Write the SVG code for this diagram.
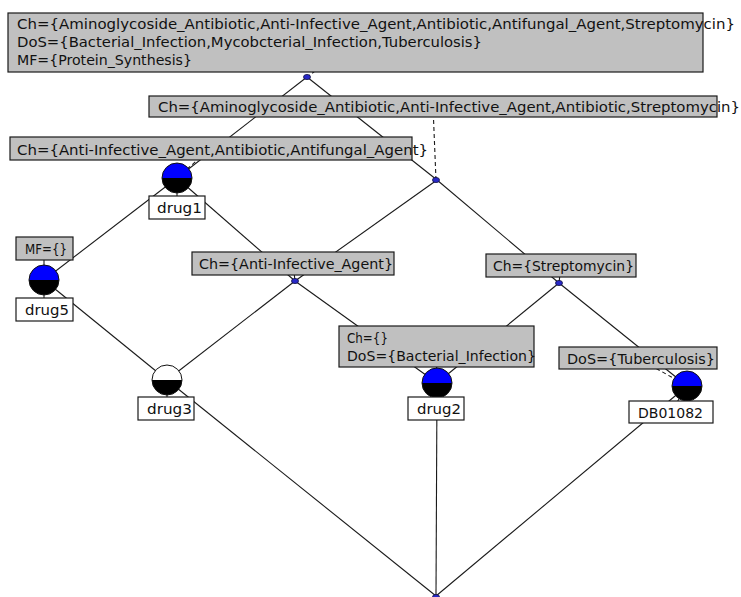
<svg xmlns="http://www.w3.org/2000/svg" width="741" height="597" viewBox="0 0 741 597">
<style>
.e{stroke:#1a1a1a;stroke-width:1.1;fill:none}
.d{stroke:#1a1a1a;stroke-width:1.1;fill:none;stroke-dasharray:4,3}
.g{fill:#c0c0c0;stroke:#1a1a1a;stroke-width:1.2}
.w{fill:#ffffff;stroke:#1a1a1a;stroke-width:1.2}
text{font-family:"DejaVu Sans","Liberation Sans",sans-serif;font-size:14.8px;fill:#111}
.pt{fill:#2828c8;stroke:#101040;stroke-width:0.8}
.ring{fill:none;stroke:#111;stroke-width:1}
</style>
<rect width="741" height="597" fill="#ffffff"/>
<g id="connectors">
<line class="e" x1="307" y1="77" x2="177" y2="178"/>
<line class="e" x1="307" y1="77" x2="437" y2="180"/>
<line class="e" x1="177" y1="178" x2="44" y2="280"/>
<line class="e" x1="177" y1="178" x2="295" y2="281"/>
<line class="e" x1="437" y1="180" x2="295" y2="281"/>
<line class="e" x1="437" y1="180" x2="559" y2="283"/>
<line class="e" x1="44" y1="280" x2="167" y2="380"/>
<line class="e" x1="295" y1="281" x2="167" y2="380"/>
<line class="e" x1="295" y1="281" x2="437" y2="383"/>
<line class="e" x1="559" y1="283" x2="437" y2="383"/>
<line class="e" x1="559" y1="283" x2="687" y2="386"/>
<line class="e" x1="167" y1="380" x2="436" y2="596"/>
<line class="e" x1="437" y1="383" x2="436" y2="596"/>
<line class="e" x1="687" y1="386" x2="436" y2="596"/>
<line class="d" x1="355" y1="42" x2="307" y2="77"/>
<line class="d" x1="433" y1="106" x2="436" y2="180"/>
<line class="d" x1="211" y1="148" x2="177" y2="178"/>
<line class="d" x1="638" y1="358" x2="687" y2="386"/>
<line class="d" x1="436" y1="346" x2="437" y2="383"/>
<line class="e" x1="44" y1="248" x2="44" y2="280"/>
<line class="e" x1="293" y1="263" x2="295" y2="281"/>
<line class="e" x1="561" y1="265" x2="559" y2="283"/>
<line class="e" x1="44" y1="280" x2="44" y2="309"/>
<line class="e" x1="167" y1="380" x2="167" y2="408"/>
<line class="e" x1="437" y1="383" x2="437" y2="408"/>
<line class="e" x1="687" y1="386" x2="671" y2="412"/>
<line class="e" x1="177" y1="178" x2="177" y2="207"/>
</g>
<g id="top">
<rect class="g" x="8" y="13" width="695" height="59"/>
<text x="17" y="29" textLength="718" lengthAdjust="spacingAndGlyphs">Ch={Aminoglycoside_Antibiotic,Anti-Infective_Agent,Antibiotic,Antifungal_Agent,Streptomycin}</text>
<text x="17" y="47" textLength="465" lengthAdjust="spacingAndGlyphs">DoS={Bacterial_Infection,Mycobcterial_Infection,Tuberculosis}</text>
<text x="17" y="65" textLength="175" lengthAdjust="spacingAndGlyphs">MF={Protein_Synthesis}</text>
<ellipse class="pt" cx="307" cy="77" rx="3.5" ry="2.6"/>
</g>
<g id="c_amino_strep">
<rect class="g" x="149" y="96" width="568" height="21"/>
<text x="158" y="112" textLength="582" lengthAdjust="spacingAndGlyphs">Ch={Aminoglycoside_Antibiotic,Anti-Infective_Agent,Antibiotic,Streptomycin}</text>
<ellipse class="pt" cx="436" cy="180" rx="3.5" ry="2.6"/>
</g>
<g id="drug1">
<rect class="g" x="10" y="137" width="402" height="23"/>
<text x="17" y="155" textLength="411" lengthAdjust="spacingAndGlyphs">Ch={Anti-Infective_Agent,Antibiotic,Antifungal_Agent}</text>
<path d="M162,178 A15,15 0 0 1 192,178 Z" fill="#0000ff"/>
<path d="M162,178 A15,15 0 0 0 192,178 Z" fill="#000"/>
<circle class="ring" cx="177" cy="178" r="15"/>
<rect class="w" x="149" y="196" width="56" height="23"/>
<text x="157" y="213" textLength="45" lengthAdjust="spacingAndGlyphs">drug1</text>
</g>
<g id="drug5">
<rect class="g" x="16" y="237" width="57" height="23"/>
<text x="25" y="254" textLength="42" lengthAdjust="spacingAndGlyphs">MF={}</text>
<path d="M29,280 A15,15 0 0 1 59,280 Z" fill="#0000ff"/>
<path d="M29,280 A15,15 0 0 0 59,280 Z" fill="#000"/>
<circle class="ring" cx="44" cy="280" r="15"/>
<rect class="w" x="16" y="298" width="57" height="23"/>
<text x="25" y="315" textLength="44" lengthAdjust="spacingAndGlyphs">drug5</text>
</g>
<g id="c_antiinf">
<rect class="g" x="192" y="252" width="202" height="23"/>
<text x="199" y="269" textLength="194" lengthAdjust="spacingAndGlyphs">Ch={Anti-Infective_Agent}</text>
<ellipse class="pt" cx="295" cy="281" rx="3.5" ry="2.6"/>
</g>
<g id="c_strep">
<rect class="g" x="486" y="254" width="150" height="23"/>
<text x="493" y="271" textLength="141" lengthAdjust="spacingAndGlyphs">Ch={Streptomycin}</text>
<ellipse class="pt" cx="559" cy="283" rx="3.5" ry="2.6"/>
</g>
<g id="drug3">
<path d="M152,380 A15,15 0 0 1 182,380 Z" fill="#ffffff"/>
<path d="M152,380 A15,15 0 0 0 182,380 Z" fill="#000"/>
<circle class="ring" cx="167" cy="380" r="15"/>
<rect class="w" x="138" y="397" width="56" height="23"/>
<text x="147" y="414" textLength="45" lengthAdjust="spacingAndGlyphs">drug3</text>
</g>
<g id="drug2">
<rect class="g" x="339" y="326" width="195" height="41"/>
<text x="347" y="343" textLength="41" lengthAdjust="spacingAndGlyphs">Ch={}</text>
<text x="347" y="361" textLength="189" lengthAdjust="spacingAndGlyphs">DoS={Bacterial_Infection}</text>
<path d="M422,383 A15,15 0 0 1 452,383 Z" fill="#0000ff"/>
<path d="M422,383 A15,15 0 0 0 452,383 Z" fill="#000"/>
<circle class="ring" cx="437" cy="383" r="15"/>
<rect class="w" x="408" y="397" width="56" height="23"/>
<text x="417" y="414" textLength="44" lengthAdjust="spacingAndGlyphs">drug2</text>
</g>
<g id="db01082">
<rect class="g" x="559" y="347" width="158" height="22"/>
<text x="567" y="364" textLength="148" lengthAdjust="spacingAndGlyphs">DoS={Tuberculosis}</text>
<path d="M672,386 A15,15 0 0 1 702,386 Z" fill="#0000ff"/>
<path d="M672,386 A15,15 0 0 0 702,386 Z" fill="#000"/>
<circle class="ring" cx="687" cy="386" r="15"/>
<rect class="w" x="629" y="401" width="84" height="22"/>
<text x="638" y="418" textLength="65" lengthAdjust="spacingAndGlyphs">DB01082</text>
</g>
<g id="bottom">
<ellipse class="pt" cx="436" cy="597" rx="3.5" ry="2.6"/>
</g>
</svg>
